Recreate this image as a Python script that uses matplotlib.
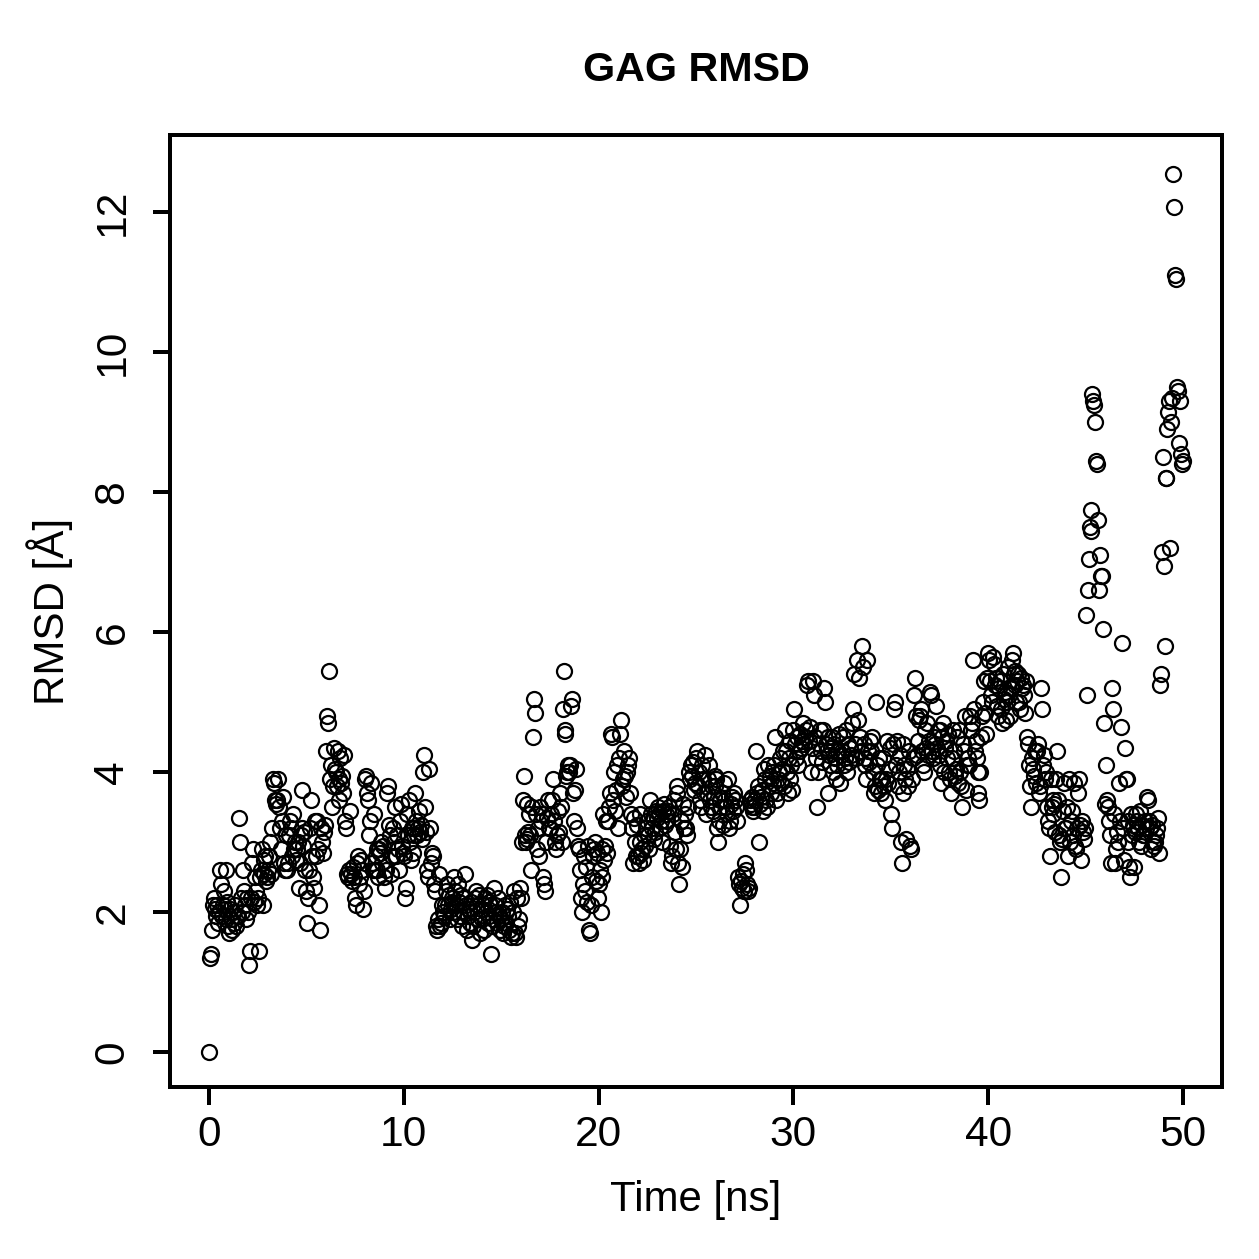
import matplotlib
matplotlib.use("Agg")
import matplotlib.pyplot as plt
import numpy as np

plt.rcParams['font.family'] = ['Liberation Sans', 'DejaVu Sans']

# sampling interval of the trajectory (ns)
dt = 0.05

# RMSD values (Angstrom), 100 frames per 5 ns block
rmsd_00_05 = [0.00, 1.35, 1.40, 1.75, 2.10, 2.20, 2.05, 1.95, 2.10, 1.85,
              2.00, 2.60, 2.40, 1.95, 2.10, 2.30, 2.05, 2.60, 1.90, 2.15,
              1.80, 1.70, 2.05, 1.90, 1.75, 2.00, 1.85, 2.10, 1.80, 1.95,
              1.95, 3.35, 3.00, 2.20, 2.00, 2.60, 2.30, 2.10, 1.90, 2.20,
              2.00, 1.25, 1.45, 2.20, 2.70, 2.90, 2.15, 2.50, 2.30, 2.10,
              2.20, 1.45, 2.50, 2.60, 2.90, 2.10, 2.75, 2.55, 2.80, 2.45,
              2.50, 2.60, 2.80, 3.00, 2.55, 3.20, 3.90, 3.85, 3.60, 3.55,
              3.60, 3.90, 3.50, 3.20, 2.90, 3.30, 3.65, 2.70, 2.60, 3.10,
              2.60, 2.70, 3.10, 3.30, 3.20, 2.80, 3.40, 2.90, 3.00, 2.75,
              2.90, 3.00, 2.35, 2.70, 3.10, 3.75, 3.20, 2.95, 3.15, 2.60]
rmsd_05_10 = [2.30, 1.85, 2.20, 2.60, 3.20, 3.60, 2.80, 2.50, 2.35, 3.30,
              2.80, 3.30, 2.90, 2.10, 1.75, 3.20, 3.00, 2.85, 3.15, 3.25,
              4.30, 4.80, 4.70, 5.45, 3.90, 4.10, 3.50, 3.80, 4.35, 4.05,
              4.00, 3.80, 4.30, 3.60, 3.90, 4.20, 3.85, 3.95, 3.70, 4.25,
              3.30, 3.20, 2.55, 2.50, 2.60, 3.45, 2.55, 2.45, 2.65, 2.50,
              2.20, 2.10, 2.70, 2.80, 2.40, 2.50, 2.75, 2.60, 2.05, 2.30,
              3.90, 3.95, 3.70, 3.60, 3.10, 3.30, 3.85, 2.70, 2.60, 3.40,
              2.60, 2.80, 2.90, 2.60, 2.50, 2.90, 2.85, 3.00, 2.70, 2.95,
              2.50, 2.35, 2.60, 3.70, 3.80, 3.25, 3.10, 2.55, 2.80, 3.20,
              3.00, 3.50, 2.80, 3.10, 2.90, 2.60, 3.30, 3.55, 2.95, 2.85]
rmsd_10_15 = [2.80, 2.20, 2.35, 3.40, 3.10, 3.60, 3.00, 2.75, 3.20, 2.85,
              3.20, 3.10, 3.70, 3.30, 3.10, 3.20, 3.45, 3.15, 3.25, 3.05,
              4.00, 4.25, 3.50, 3.15, 2.60, 2.50, 4.05, 3.20, 2.70, 2.85,
              2.80, 2.40, 2.30, 1.80, 1.75, 1.90, 2.55, 1.80, 1.85, 2.10,
              2.00, 1.95, 2.10, 2.30, 2.40, 2.10, 2.25, 1.90, 2.05, 2.15,
              2.20, 2.00, 2.50, 2.30, 2.10, 1.90, 2.40, 2.15, 1.95, 2.25,
              1.80, 2.00, 2.20, 2.55, 2.10, 1.75, 1.95, 2.05, 1.85, 2.15,
              1.60, 1.80, 2.00, 2.20, 2.30, 2.10, 1.90, 2.25, 1.70, 2.05,
              1.90, 2.10, 1.75, 2.20, 2.00, 2.25, 1.85, 2.15, 1.95, 2.10,
              1.40, 1.80, 1.90, 2.35, 2.10, 2.00, 1.85, 2.20, 1.95, 1.75]
rmsd_15_20 = [1.90, 2.00, 1.70, 1.80, 2.10, 1.85, 2.05, 1.95, 1.75, 2.15,
              1.65, 1.70, 2.00, 2.30, 1.70, 1.65, 2.20, 1.80, 1.90, 2.35,
              2.20, 3.00, 3.60, 3.95, 3.10, 3.00, 3.55, 3.05, 3.15, 3.40,
              3.10, 2.60, 3.50, 4.50, 5.05, 4.85, 3.40, 2.90, 3.20, 2.80,
              3.50, 3.30, 3.40, 2.50, 2.40, 2.30, 3.00, 3.35, 3.60, 3.20,
              3.20, 3.40, 3.60, 3.90, 3.30, 3.00, 2.90, 3.10, 3.45, 3.15,
              3.70, 3.50, 3.00, 4.90, 5.45, 4.60, 4.55, 3.95, 4.00, 4.10,
              4.00, 4.10, 4.95, 5.05, 3.70, 3.30, 3.75, 4.05, 3.20, 2.95,
              2.90, 2.60, 2.20, 2.00, 2.40, 2.80, 2.30, 2.65, 2.15, 2.95,
              1.75, 1.70, 2.10, 2.50, 2.80, 2.90, 3.00, 2.45, 2.85, 2.20]
rmsd_20_25 = [2.40, 2.60, 2.00, 2.50, 2.90, 3.40, 2.75, 2.95, 3.30, 2.85,
              3.30, 3.50, 3.70, 4.55, 4.50, 3.60, 4.00, 3.45, 3.75, 4.10,
              3.20, 4.20, 4.55, 4.75, 3.80, 3.90, 4.30, 3.95, 3.65, 4.00,
              4.10, 4.20, 3.70, 3.40, 3.20, 2.70, 3.35, 3.00, 2.80, 3.25,
              2.80, 2.70, 3.00, 3.40, 2.85, 2.90, 2.75, 3.10, 2.95, 3.20,
              3.30, 3.10, 2.90, 3.60, 3.40, 3.20, 3.35, 3.05, 3.15, 3.45,
              3.35, 3.50, 3.40, 3.20, 3.30, 3.00, 3.45, 3.55, 3.25, 3.40,
              3.30, 3.45, 3.50, 2.95, 2.70, 2.80, 3.40, 3.60, 3.15, 2.90,
              3.70, 3.80, 2.70, 2.40, 2.90, 3.30, 2.65, 3.55, 3.20, 3.40,
              3.20, 3.10, 3.50, 4.00, 3.90, 4.10, 3.95, 4.15, 3.75, 3.85]
rmsd_25_30 = [4.20, 4.30, 3.80, 4.00, 3.60, 3.50, 4.10, 3.90, 3.70, 4.25,
              3.40, 3.70, 3.90, 4.10, 3.60, 3.50, 3.80, 3.45, 3.65, 3.95,
              3.80, 3.90, 3.20, 3.00, 3.30, 3.60, 3.50, 3.70, 3.25, 3.85,
              3.60, 3.50, 3.40, 3.90, 3.20, 3.30, 3.55, 3.65, 3.45, 3.70,
              3.60, 3.50, 3.30, 2.50, 2.40, 2.10, 2.45, 2.35, 2.55, 2.30,
              2.70, 2.60, 2.40, 2.30, 2.35, 3.60, 3.55, 3.50, 3.65, 3.45,
              3.50, 3.60, 4.30, 3.70, 3.80, 3.00, 3.55, 3.65, 3.75, 3.45,
              4.05, 3.90, 3.60, 3.50, 4.10, 3.80, 3.95, 3.70, 4.00, 3.85,
              4.10, 4.50, 3.60, 3.70, 3.90, 4.00, 4.20, 3.85, 4.05, 4.30,
              3.80, 4.60, 4.30, 4.00, 3.70, 4.20, 3.90, 4.45, 4.10, 3.75]
rmsd_30_35 = [4.60, 4.90, 4.40, 4.20, 4.50, 4.10, 4.30, 4.55, 4.35, 4.45,
              4.70, 4.40, 4.50, 4.60, 5.25, 5.30, 4.45, 4.65, 4.00, 4.35,
              5.30, 5.10, 4.50, 4.20, 3.50, 4.00, 4.40, 4.60, 4.30, 4.15,
              4.60, 5.20, 5.00, 4.40, 4.30, 3.70, 4.50, 4.25, 4.10, 4.35,
              4.50, 4.00, 4.40, 4.20, 3.90, 4.10, 4.30, 4.55, 3.85, 4.25,
              4.30, 4.50, 4.10, 4.20, 4.60, 4.00, 4.40, 4.15, 4.35, 4.25,
              4.70, 4.90, 5.40, 4.40, 4.20, 5.60, 4.75, 5.35, 4.50, 4.30,
              5.80, 5.50, 4.40, 4.20, 4.10, 3.90, 5.60, 4.30, 4.15, 4.45,
              4.30, 4.50, 4.00, 3.70, 3.80, 5.00, 4.10, 3.75, 4.20, 3.90,
              3.70, 3.90, 4.20, 3.80, 3.60, 3.90, 4.45, 3.85, 4.05, 4.35]
rmsd_35_40 = [3.40, 3.20, 4.40, 4.90, 5.00, 4.10, 4.45, 3.80, 4.00, 4.25,
              3.00, 2.70, 3.70, 4.40, 4.10, 3.90, 3.05, 4.05, 3.80, 4.30,
              2.95, 2.90, 3.90, 4.20, 5.10, 5.35, 4.80, 4.25, 4.45, 4.75,
              4.80, 4.90, 4.30, 4.10, 4.00, 4.60, 4.35, 4.70, 4.25, 4.45,
              5.15, 5.10, 4.30, 4.20, 4.50, 4.40, 4.95, 4.35, 4.60, 4.25,
              4.60, 4.10, 3.85, 4.50, 4.70, 4.00, 4.35, 4.45, 4.20, 4.55,
              4.00, 3.90, 3.70, 4.20, 4.60, 4.30, 3.95, 4.05, 4.50, 3.85,
              4.60, 4.00, 3.80, 3.50, 4.40, 4.30, 4.80, 3.75, 4.10, 4.20,
              4.10, 4.80, 4.60, 4.70, 5.60, 4.90, 4.30, 4.45, 4.20, 4.00,
              3.70, 3.60, 4.00, 4.50, 4.80, 5.00, 5.30, 4.85, 4.55, 5.35]
rmsd_40_45 = [5.70, 5.60, 5.30, 5.10, 5.00, 5.65, 5.55, 5.25, 5.35, 4.95,
              4.80, 5.20, 5.30, 4.90, 4.70, 5.40, 5.05, 5.15, 4.75, 5.00,
              5.50, 5.10, 4.80, 5.20, 5.60, 5.70, 5.40, 5.25, 5.45, 5.00,
              5.30, 5.40, 5.00, 4.90, 5.35, 5.20, 5.25, 5.10, 4.85, 5.30,
              4.50, 4.40, 4.10, 3.80, 3.50, 4.20, 4.05, 3.95, 4.30, 3.85,
              4.30, 4.40, 3.70, 3.80, 5.20, 4.90, 4.10, 4.25, 3.90, 4.00,
              3.50, 3.30, 3.20, 2.80, 3.90, 3.50, 3.60, 3.40, 3.55, 3.15,
              3.90, 4.30, 3.60, 3.10, 3.00, 2.50, 3.05, 3.45, 3.85, 3.20,
              3.20, 3.50, 2.80, 3.90, 3.00, 3.30, 3.45, 3.10, 3.85, 2.95,
              2.90, 3.20, 3.70, 3.90, 3.25, 2.75, 3.30, 3.15, 3.05, 3.20]
rmsd_45_50 = [6.25, 5.10, 6.60, 7.05, 7.50, 7.45, 7.75, 9.40, 9.30, 9.25,
              9.00, 8.45, 8.40, 7.60, 6.60, 7.10, 6.80, 6.80, 6.05, 4.70,
              3.55, 4.10, 3.60, 3.50, 3.30, 3.10, 2.70, 5.20, 4.90, 3.40,
              2.70, 2.90, 3.15, 3.00, 3.85, 3.30, 4.65, 5.85, 3.20, 2.75,
              4.35, 3.90, 3.90, 3.30, 3.00, 2.65, 2.50, 3.40, 3.10, 3.25,
              2.65, 3.15, 3.40, 3.30, 3.20, 3.00, 3.45, 2.95, 3.25, 3.10,
              3.10, 3.30, 3.20, 3.65, 3.60, 3.30, 3.20, 2.90, 3.25, 3.00,
              2.95, 3.00, 3.10, 3.20, 3.35, 2.85, 5.25, 5.40, 7.15, 8.50,
              6.95, 5.80, 8.20, 8.20, 8.90, 9.15, 9.30, 7.20, 9.00, 9.35,
              12.55, 12.07, 11.10, 11.05, 9.50, 9.45, 8.70, 9.30, 8.55, 8.40,
              8.45]

rmsd = np.array(rmsd_00_05 + rmsd_05_10 + rmsd_10_15 + rmsd_15_20 + rmsd_20_25 +
                rmsd_25_30 + rmsd_30_35 + rmsd_35_40 + rmsd_40_45 + rmsd_45_50)
time = np.arange(len(rmsd)) * dt

fig = plt.figure(figsize=(1259 / 180, 1259 / 180), dpi=180)
ax = fig.add_axes([170 / 1259, 1 - 1087 / 1259, (1222 - 170) / 1259, (1087 - 135) / 1259])

ax.plot(time, rmsd, 'o', mfc='none', mec='black', ms=6.0, mew=0.9)

ax.set_xlim(-2, 52)
ax.set_ylim(-0.5, 13.1)
ax.set_xticks([0, 10, 20, 30, 40, 50])
ax.set_yticks([0, 2, 4, 6, 8, 10, 12])
for s in ax.spines.values():
    s.set_linewidth(1.6)
ax.tick_params(axis='both', direction='out', length=7, width=1.6, labelsize=17)
ax.tick_params(axis='x', pad=4)
ax.tick_params(axis='y', pad=8, labelrotation=90)
for lab in ax.get_yticklabels():
    lab.set_va('center')

fig.text(696 / 1259, 1 - 1200 / 1259, 'Time [ns]', ha='center', va='center', fontsize=16.8)
fig.text(50 / 1259, 1 - 611 / 1259, 'RMSD [Å]', ha='center', va='center',
         rotation=90, fontsize=16.8)
fig.text(696 / 1259, 1 - 70 / 1259, 'GAG RMSD', ha='center', va='center',
         fontsize=16.5, fontweight='bold')

plt.savefig('out.png', dpi=180)
